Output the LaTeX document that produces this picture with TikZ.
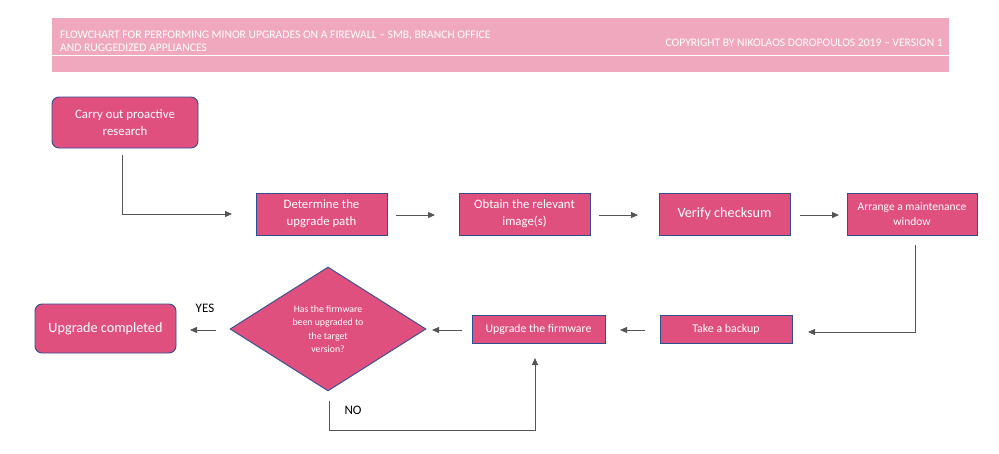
\documentclass[tikz,border=0pt]{standalone}
\usepackage{fontspec}
\setmainfont{Carlito}
\usetikzlibrary{shapes.geometric,arrows.meta}
\definecolor{boxpink}{HTML}{E0507E}
\definecolor{boxedge}{HTML}{2F4F8F}
\definecolor{headpink}{HTML}{F0A8BE}
\definecolor{linegrey}{HTML}{555555}
\tikzset{
  stepbox/.style={draw=boxedge, line width=0.9pt, fill=boxpink, text=white, align=center, inner sep=0pt},
  roundbox/.style={stepbox, rounded corners=7pt},
  flow/.style={draw=linegrey, line width=0.8pt, -{Triangle[length=7pt,width=6pt]}},
  plain/.style={draw=linegrey, line width=0.8pt},
  lbl/.style={text=black, font=\fontsize{13}{15}\selectfont},
}
\begin{document}
\begin{tikzpicture}[x=1pt,y=-1pt]
\useasboundingbox (0,0) rectangle (999,453);
% header
\fill[headpink] (52,18) rectangle (949,72);
\draw[white, line width=0.8pt] (52,55.5) -- (949,55.5);
\node[anchor=west, text=white, align=left, font=\fontsize{11.6}{13}\selectfont, inner sep=0pt] (title) at (60,41.5)
  {FLOWCHART FOR PERFORMING MINOR UPGRADES ON A FIREWALL – SMB, BRANCH OFFICE\\AND RUGGEDIZED APPLIANCES};
\node[anchor=east, text=white, font=\fontsize{11.6}{13}\selectfont, inner sep=0pt] (copy) at (943,43)
  {COPYRIGHT BY NIKOLAOS DOROPOULOS 2019 – VERSION 1};
% nodes
\node[roundbox, minimum width=146pt, minimum height=51pt, font=\fontsize{12.8}{17}\selectfont] (research) at (125,122.5) {Carry out proactive\\research};
\node[stepbox, minimum width=131pt, minimum height=42pt, font=\fontsize{12.8}{17}\selectfont] (path) at (321.5,214) {Determine the\\upgrade path};
\node[stepbox, minimum width=131pt, minimum height=42pt, font=\fontsize{12.8}{17}\selectfont] (image) at (524.5,214) {Obtain the relevant\\image(s)};
\node[stepbox, minimum width=131pt, minimum height=42pt, font=\fontsize{14.2}{17}\selectfont] (verify) at (724.5,214) {Verify checksum};
\node[stepbox, minimum width=130pt, minimum height=42pt, font=\fontsize{11.5}{15}\selectfont] (window) at (912,214) {Arrange a maintenance\\window};
\node[stepbox, minimum width=132pt, minimum height=28pt, font=\fontsize{11.9}{14}\selectfont] (backup) at (726,329) {Take a backup};
\node[stepbox, minimum width=133pt, minimum height=28pt, font=\fontsize{11.8}{14}\selectfont] (firmware) at (538.5,329) {Upgrade the firmware};
\node[diamond, draw=boxedge, line width=0.9pt, fill=boxpink, text=white, inner sep=0pt, minimum width=196pt, minimum height=124pt, aspect=1.58, font=\fontsize{9.8}{13.5}\selectfont, align=center] (check) at (328,329) {Has the firmware\\been upgraded to\\the target\\version?};
\node[roundbox, minimum width=141pt, minimum height=49pt, font=\fontsize{14.2}{17}\selectfont] (done) at (105.5,328.5) {Upgrade completed};
% labels
\node[lbl] (yes) at (205,308) {YES};
\node[lbl] (no) at (353,410) {NO};
% free ends
\coordinate (r0) at (122,155);
\coordinate (r1) at (232,214);
\coordinate (p0) at (396,215);
\coordinate (p1) at (435,215);
\coordinate (i0) at (599,215);
\coordinate (i1) at (638,215);
\coordinate (v0) at (800,215);
\coordinate (v1) at (839,215);
\coordinate (w0) at (915,245);
\coordinate (w1) at (808,332);
\coordinate (b0) at (645,330);
\coordinate (b1) at (620,330);
\coordinate (f0) at (462,330);
\coordinate (f1) at (432,330);
\coordinate (y0) at (216,330);
\coordinate (y1) at (190,330);
\coordinate (n0) at (329,401);
\coordinate (n1) at (535,358);
% connectors
\draw[flow] (r0) |- (r1);
\draw[flow] (p0) -- (p1);
\draw[flow] (i0) -- (i1);
\draw[flow] (v0) -- (v1);
\draw[flow] (w0) |- (w1);
\draw[flow] (b0) -- (b1);
\draw[flow] (f0) -- (f1);
\draw[flow] (y0) -- (y1);
\draw[flow] (n0) -- (329,430) -| (n1);
\end{tikzpicture}
\end{document}
